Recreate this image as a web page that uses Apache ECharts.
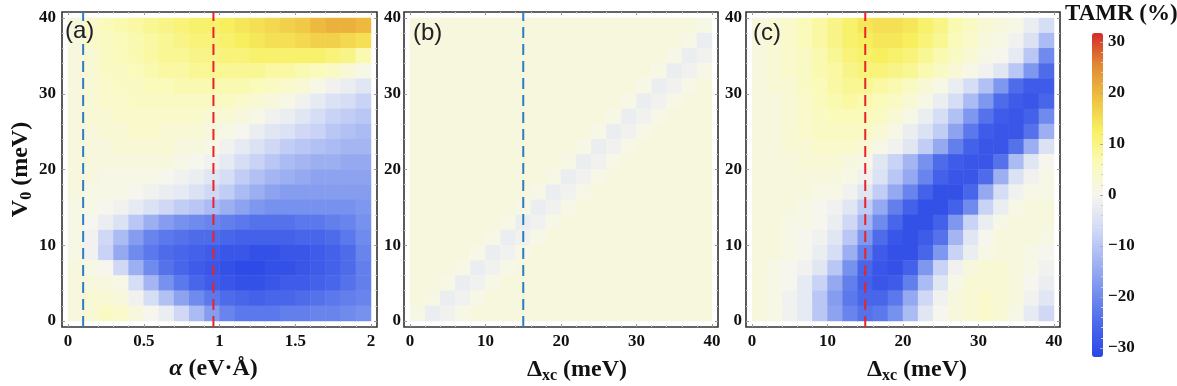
<!DOCTYPE html>
<html>
<head>
<meta charset="utf-8">
<title>TAMR maps</title>
<script src="https://cdn.jsdelivr.net/npm/echarts@6.0.0/dist/echarts.min.js"></script>
<style>
  html, body { margin: 0; padding: 0; background: #fff; }
  #main { width: 1177px; height: 386px; }
</style>
</head>
<body>
<div id="main"></div>
<script>
// cell centres of the maps
var alphaCells = [0.05, 0.15, 0.25, 0.35, 0.45, 0.55, 0.65, 0.75, 0.85, 0.95,
                  1.05, 1.15, 1.25, 1.35, 1.45, 1.55, 1.65, 1.75, 1.85, 1.95];
var dxcCells = [1, 3, 5, 7, 9, 11, 13, 15, 17, 19, 21, 23, 25, 27, 29, 31, 33, 35, 37, 39];
var v0Cells = [1, 3, 5, 7, 9, 11, 13, 15, 17, 19, 21, 23, 25, 27, 29, 31, 33, 35, 37, 39];

// TAMR (%) per cell, rows go from V0 = 39 (top) down to V0 = 1
var tamrA = [
  [2, 4, 6, 7, 8, 9, 10, 11, 12, 12, 13, 14, 15, 16, 17, 18, 20, 21, 21, 20],
  [2, 4, 5, 6, 7, 8, 9, 10, 11, 11, 12, 13, 14, 15, 15, 16, 17, 17, 16, 15],
  [2, 3, 5, 6, 7, 8, 9, 9, 10, 10, 11, 11, 12, 12, 12, 12, 12, 11, 10, 7],
  [2, 3, 5, 5, 6, 7, 8, 8, 9, 9, 9, 9, 9, 8, 8, 7, 6, 5, 3, 1],
  [2, 3, 4, 5, 5, 6, 6, 7, 7, 7, 7, 7, 6, 5, 4, 3, 1, -1, -2, -4],
  [2, 3, 4, 4, 5, 5, 5, 5, 5, 5, 5, 4, 3, 2, 1, -1, -3, -5, -6, -8],
  [2, 3, 3, 4, 4, 4, 4, 4, 4, 3, 3, 2, 1, -1, -2, -4, -6, -8, -9, -10],
  [2, 2, 3, 3, 4, 4, 3, 3, 3, 2, 1, 0, -2, -4, -5, -7, -8, -10, -11, -12],
  [2, 2, 2, 3, 3, 3, 3, 2, 2, 1, -1, -3, -5, -7, -9, -10, -11, -12, -13, -13],
  [2, 2, 2, 2, 2, 2, 2, 1, 0, -1, -3, -6, -8, -10, -12, -13, -14, -14, -15, -15],
  [2, 2, 1, 1, 1, 1, 0, -1, -2, -4, -6, -9, -11, -13, -14, -15, -16, -16, -16, -16],
  [2, 1, 1, 1, 0, -1, -2, -3, -5, -7, -9, -12, -14, -16, -17, -17, -17, -17, -17, -17],
  [1, 1, 0, -1, -3, -5, -7, -9, -10, -12, -14, -16, -18, -19, -19, -19, -19, -19, -19, -18],
  [1, 0, -2, -5, -10, -14, -17, -19, -20, -21, -22, -23, -24, -24, -24, -23, -23, -22, -21, -19],
  [1, -1, -7, -12, -17, -21, -23, -24, -25, -25, -26, -27, -27, -27, -27, -26, -26, -25, -23, -20],
  [1, -1, -8, -15, -20, -23, -25, -26, -27, -28, -29, -29, -30, -30, -29, -29, -28, -27, -25, -21],
  [2, 1, 0, -7, -14, -20, -24, -26, -28, -29, -30, -31, -31, -30, -30, -29, -28, -27, -25, -22],
  [2, 2, 2, 1, -6, -13, -19, -23, -26, -28, -29, -30, -30, -29, -28, -28, -27, -26, -24, -22],
  [2, 3, 3, 2, -1, -6, -11, -16, -20, -23, -25, -26, -27, -26, -26, -25, -24, -23, -22, -21],
  [2, 3, 5, 4, 2, 0, -2, -7, -12, -17, -21, -23, -23, -23, -22, -22, -21, -21, -20, -19]
];

var tamrB = [
  [2, 2, 2, 2, 2, 2, 2, 2, 2, 2, 2, 2, 2, 2, 2, 2, 2, 2, 2, 1],
  [2, 2, 2, 2, 2, 2, 2, 2, 2, 2, 2, 2, 2, 2, 2, 2, 2, 2, 1, -2],
  [2, 2, 2, 2, 2, 2, 2, 2, 2, 2, 2, 2, 2, 2, 2, 2, 2, 1, -2, -1],
  [2, 2, 2, 2, 2, 2, 2, 2, 2, 2, 2, 2, 2, 2, 2, 2, 1, -2, -1, 1],
  [2, 2, 2, 2, 2, 2, 2, 2, 2, 2, 2, 2, 2, 2, 2, 1, -2, -1, 1, 2],
  [2, 2, 2, 2, 2, 2, 2, 2, 2, 2, 2, 2, 2, 2, 1, -2, -1, 1, 2, 2],
  [2, 2, 2, 2, 2, 2, 2, 2, 2, 2, 2, 2, 2, 1, -2, -1, 1, 2, 2, 2],
  [2, 2, 2, 2, 2, 2, 2, 2, 2, 2, 2, 2, 1, -2, -1, 1, 2, 2, 2, 2],
  [2, 2, 2, 2, 2, 2, 2, 2, 2, 2, 2, 1, -2, -1, 1, 2, 2, 2, 2, 2],
  [2, 2, 2, 2, 2, 2, 2, 2, 2, 2, 1, -2, -1, 1, 2, 2, 2, 2, 2, 2],
  [2, 2, 2, 2, 2, 2, 2, 2, 2, 1, -2, -1, 1, 2, 2, 2, 2, 2, 2, 2],
  [2, 2, 2, 2, 2, 2, 2, 2, 1, -2, -1, 1, 2, 2, 2, 2, 2, 2, 2, 2],
  [2, 2, 2, 2, 2, 2, 2, 1, -2, -1, 1, 2, 2, 2, 2, 2, 2, 2, 2, 2],
  [2, 2, 2, 2, 2, 2, 1, -2, -1, 1, 2, 2, 2, 2, 2, 2, 2, 2, 2, 2],
  [2, 2, 2, 2, 2, 1, -2, -1, 1, 2, 2, 2, 2, 2, 2, 2, 2, 2, 2, 2],
  [2, 2, 2, 2, 1, -2, -1, 1, 2, 2, 2, 2, 2, 2, 2, 2, 2, 2, 2, 2],
  [2, 2, 2, 1, -2, -1, 1, 2, 2, 2, 2, 2, 2, 2, 2, 2, 2, 2, 2, 2],
  [2, 2, 1, -2, -1, 1, 2, 2, 2, 2, 2, 2, 2, 2, 2, 2, 2, 2, 2, 2],
  [2, 1, -2, -1, 1, 2, 2, 2, 2, 2, 2, 2, 2, 2, 2, 2, 2, 2, 2, 2],
  [1, -2, -1, 1, 2, 2, 2, 2, 2, 2, 2, 2, 2, 2, 2, 2, 2, 2, 2, 2]
];

var tamrC = [
  [2, 3, 4, 6, 8, 10, 12, 14, 15, 15, 14, 12, 10, 7, 5, 3, 2, 1, -2, -6],
  [2, 3, 4, 6, 8, 10, 12, 13, 14, 14, 13, 11, 9, 6, 4, 2, 1, -1, -5, -12],
  [2, 3, 4, 5, 7, 9, 11, 12, 13, 12, 11, 9, 7, 5, 3, 1, 0, -3, -10, -20],
  [2, 3, 4, 5, 7, 8, 10, 11, 11, 10, 9, 7, 5, 3, 1, -1, -4, -10, -18, -25],
  [2, 3, 3, 5, 6, 8, 9, 9, 8, 7, 5, 3, 1, -2, -6, -11, -18, -25, -28, -28],
  [2, 2, 3, 4, 6, 7, 8, 7, 6, 5, 3, 1, -2, -6, -12, -18, -25, -28, -29, -26],
  [2, 2, 3, 4, 5, 6, 6, 6, 5, 3, 1, -2, -6, -11, -18, -24, -28, -29, -27, -20],
  [2, 2, 3, 4, 5, 5, 5, 5, 3, 1, -2, -5, -9, -16, -23, -28, -29, -29, -24, -14],
  [2, 2, 3, 3, 4, 4, 4, 3, 1, -1, -4, -9, -15, -22, -27, -29, -29, -24, -14, -5],
  [2, 2, 2, 3, 3, 3, 2, 1, -4, -8, -13, -19, -25, -28, -29, -29, -24, -12, -4, 0],
  [2, 2, 2, 2, 2, 2, 1, -1, -5, -10, -15, -21, -27, -29, -29, -25, -14, -5, -1, 1],
  [2, 2, 2, 2, 1, 1, -1, -4, -9, -15, -21, -27, -30, -30, -26, -15, -6, -1, 1, 1],
  [2, 2, 2, 1, 0, -1, -4, -9, -15, -22, -27, -30, -30, -27, -20, -8, -2, 1, 2, 2],
  [2, 2, 1, 1, 0, -2, -7, -13, -20, -26, -30, -30, -27, -18, -8, -2, 1, 2, 2, 2],
  [2, 2, 1, 0, -1, -4, -10, -18, -25, -29, -30, -28, -24, -13, -4, 0, 2, 2, 2, 1],
  [2, 2, 1, 0, -2, -6, -14, -22, -28, -30, -30, -26, -18, -8, -2, 1, 2, 2, 1, 0],
  [2, 1, 0, -1, -4, -10, -19, -26, -29, -30, -27, -18, -8, -1, 2, 3, 3, 2, 1, -1],
  [2, 1, 0, -3, -8, -15, -22, -27, -29, -28, -22, -12, -4, 1, 3, 3, 3, 2, 0, -2],
  [2, 1, -1, -3, -10, -17, -23, -26, -26, -23, -15, -7, -1, 2, 3, 4, 3, 2, -1, -4],
  [2, 1, -1, -3, -10, -16, -21, -24, -23, -19, -12, -4, 0, 2, 3, 4, 3, 1, -3, -7]
];

// dashed cuts (x positions)
var cutsA = [0.1, 0.96];
var cutsB = [15];
var cutsC = [15];

var tamrColors = ['#2a46e6', '#4a68ea', '#7590ee', '#a5b6f2', '#d4dcf6', '#f6f6ee',
                  '#fafab8', '#f8f060', '#eec040', '#e28a34', '#d42a2a'];

var chart = echarts.init(document.getElementById('main'));

var serif = 'Liberation Serif';
var ink = '#111';
var pad = 6;
var frameTop = 12, frameH = 315;

function tickLabel(margin) {
  return {margin: margin, fontFamily: serif, fontWeight: 'bold', fontSize: 17, color: ink};
}
var nameStyle = {
  fontFamily: serif, fontWeight: 'bold', fontSize: 24, color: ink, lineHeight: 28,
  rich: {
    s: {fontFamily: serif, fontWeight: 'bold', fontSize: 16, lineHeight: 16, padding: [13, 0, 0, 0], color: ink},
    i: {fontFamily: serif, fontWeight: 'bold', fontStyle: 'italic', fontSize: 24, lineHeight: 28, color: ink}
  }
};

function valueAxis(extra) {
  return Object.assign({
    type: 'value',
    offset: pad,
    axisLine: {show: false, onZero: false},
    splitLine: {show: false},
    axisTick: {inside: true, length: 3, lineStyle: {color: '#999'}},
    minorTick: {show: true, splitNumber: 5, length: 2, lineStyle: {color: '#ccc'}}
  }, extra);
}

var grid = [], xAxis = [], yAxis = [], series = [], title = [], heatIdx = [];

function panel(p) {
  // frame
  var fg = grid.length;
  grid.push({left: p.left, top: frameTop, width: p.width, height: frameH, show: true,
    borderColor: '#333', borderWidth: 1.6, backgroundColor: 'transparent', outerBoundsMode: 'none'});
  xAxis.push({gridIndex: fg, type: 'value', show: false, min: 0, max: 1});
  yAxis.push({gridIndex: fg, type: 'value', show: false, min: 0, max: 1});

  // data region
  var dg = grid.length;
  var innerH = frameH - 2 * pad;
  grid.push({left: p.left + pad, top: frameTop + pad, width: p.width - 2 * pad, height: innerH, outerBoundsMode: 'none'});

  var cx = xAxis.length;
  xAxis.push({gridIndex: dg, type: 'category', show: false, data: p.cells.map(String)});
  var cy = yAxis.length;
  yAxis.push({gridIndex: dg, type: 'category', show: false, data: v0Cells.map(String)});

  var vx = xAxis.length;
  xAxis.push(valueAxis({gridIndex: dg, position: 'bottom', min: 0, max: p.xMax, interval: p.xMax / 4,
    axisLabel: tickLabel(6), name: p.xName, nameLocation: 'middle', nameGap: 27,
    nameTextStyle: Object.assign({}, nameStyle, {padding: p.namePad})}));
  xAxis.push(valueAxis({gridIndex: dg, position: 'top', min: 0, max: p.xMax, interval: p.xMax / 4,
    axisLabel: {show: false}}));

  var vy = yAxis.length;
  var yOpt = {gridIndex: dg, position: 'left', min: 0, max: 40, interval: 10, axisLabel: tickLabel(p.yMargin)};
  if (p.yName) {
    yOpt.name = p.yName;
    yOpt.nameLocation = 'middle';
    yOpt.nameGap = 27;
    yOpt.nameTextStyle = nameStyle;
  }
  yAxis.push(valueAxis(yOpt));
  yAxis.push(valueAxis({gridIndex: dg, position: 'right', min: 0, max: 40, interval: 10, axisLabel: {show: false}}));

  var data = [];
  p.rows.forEach(function (row, r) {
    row.forEach(function (v, c) {
      data.push([c, p.rows.length - 1 - r, v]);
    });
  });
  heatIdx.push(series.length);
  series.push({type: 'heatmap', xAxisIndex: cx, yAxisIndex: cy, data: data, silent: true,
    emphasis: {disabled: true}, itemStyle: {borderWidth: 0}});

  var over = 40 * pad / innerH;
  p.cuts.forEach(function (c, k) {
    series.push({type: 'line', xAxisIndex: vx, yAxisIndex: vy, data: [[c, -over], [c, 40 + over]],
      symbol: 'none', clip: false, silent: true, z: 5,
      lineStyle: {color: p.cutColors[k], width: 2, type: [11, 6]}});
  });

  title.push({text: p.label, left: p.labelX, top: p.labelY, padding: 0,
    textStyle: {fontFamily: 'Liberation Sans', fontWeight: 'normal', fontSize: 24, color: '#222'}});
}

panel({left: 62, width: 315, cells: alphaCells, rows: tamrA, xMax: 2,
  xName: '{i|α} (eV·Å)', namePad: [0, 12, 0, 0], yName: 'V{s|0} (meV)', yMargin: 6,
  cuts: cutsA, cutColors: ['#2f7dc0', '#e8232a'], label: '(a)', labelX: 65, labelY: 19});
panel({left: 404, width: 314, cells: dxcCells, rows: tamrB, xMax: 40,
  xName: 'Δ{s|xc} (meV)', namePad: [0, 0, 0, 32], yMargin: 3,
  cuts: cutsB, cutColors: ['#2f7dc0'], label: '(b)', labelX: 413, labelY: 21});
panel({left: 746, width: 314, cells: dxcCells, rows: tamrC, xMax: 40,
  xName: 'Δ{s|xc} (meV)', namePad: [0, 0, 0, 28], yMargin: 4,
  cuts: cutsC, cutColors: ['#e8232a'], label: '(c)', labelX: 753, labelY: 21});

// colour bar axis
var cg = grid.length;
grid.push({left: 1092, top: 42, width: 11, height: 306, outerBoundsMode: 'none'});
xAxis.push({gridIndex: cg, type: 'value', show: false, min: 0, max: 1});
yAxis.push({gridIndex: cg, type: 'value', position: 'right', min: -30, max: 30, interval: 10, z: 10,
  axisLine: {show: false, onZero: false}, splitLine: {show: false},
  axisTick: {inside: true, length: 3, lineStyle: {color: '#aaa'}},
  minorTick: {show: true, splitNumber: 5, length: 2, lineStyle: {color: '#ccc'}},
  axisLabel: {margin: 5, fontFamily: serif, fontWeight: 'bold', fontSize: 17, color: ink,
    formatter: function (v) { return String(v).replace('-', '\u2212'); }}});

title.push({text: 'TAMR (%)', left: 1065, top: 3, padding: 0,
  textStyle: {fontFamily: serif, fontWeight: 'bold', fontSize: 23, color: ink}});

chart.setOption({
  animation: false,
  backgroundColor: '#fff',
  title: title,
  grid: grid,
  xAxis: xAxis,
  yAxis: yAxis,
  visualMap: {
    type: 'continuous',
    seriesIndex: heatIdx,
    min: -32,
    max: 32,
    calculable: false,
    hoverLink: false,
    left: 1092,
    top: 33,
    padding: 0,
    itemWidth: 11,
    itemHeight: 324,
    inRange: {color: tamrColors}
  },
  series: series
});
</script>
</body>
</html>
